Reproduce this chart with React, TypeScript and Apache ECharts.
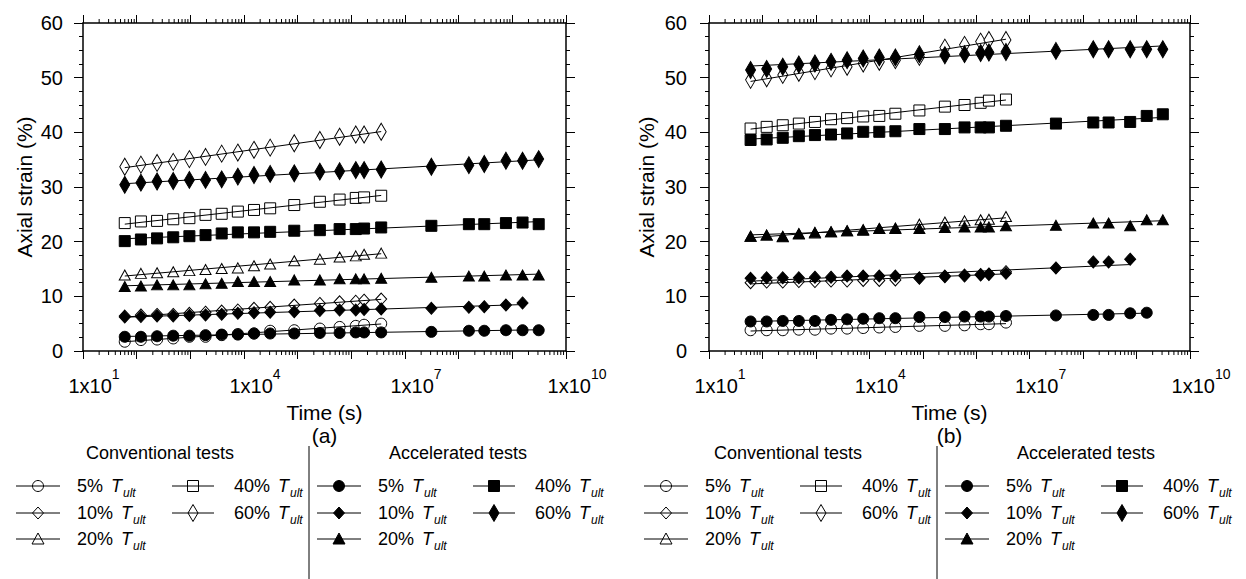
import React, { useEffect, useRef } from "react";
import * as echarts from "echarts";

const FONT = "'Liberation Sans', Arial, Helvetica, sans-serif";

// Elapsed times of the readings (s)
const times = [
  60, 120, 240, 480, 960, 1920, 3840, 7680, 15360, 30720, 86400, 259200, 604800,
  1209600, 1728000, 3600000, 3.1e7, 1.55e8, 3.0e8, 7.6e8, 1.55e9, 3.1e9,
];

const levels = ["5", "10", "20", "40", "60"];
const labelledExponents = [1, 4, 7, 10];
const yMin = 0;
const yMax = 60;
const yStep = 10;
const xMin = 10;
const xMax = 1e10;

// Panel (a) – conventional tests
const aConv5 = [1.7, 2.0, 2.1, 2.3, 2.6, 2.6, 2.9, 3.1, 3.2, 3.7, 3.8, 4.1, 4.4, 4.6, 4.8, 5.0];
const aConv10 = [6.4, 6.6, 6.7, 6.7, 6.9, 7.1, 7.3, 7.5, 7.8, 8.0, 8.4, 8.7, 9.0, 9.1, 9.3, 9.5];
const aConv20 = [13.9, 14.2, 14.3, 14.5, 14.7, 14.9, 15.1, 15.2, 15.6, 15.9, 16.5, 16.8, 17.2, 17.4, 17.7, 17.9];
const aConv40 = [23.4, 23.7, 23.8, 24.1, 24.3, 24.9, 25.1, 25.5, 25.8, 26.1, 26.7, 27.3, 27.7, 28.0, 28.1, 28.4];
const aConv60 = [33.7, 34.1, 34.4, 34.6, 35.1, 35.5, 36.1, 36.3, 36.8, 37.2, 38.0, 38.6, 39.2, 39.6, 39.6, 40.1];
// Panel (a) – accelerated tests
const aAcc5 = [2.6, 2.6, 2.7, 2.8, 2.8, 2.9, 3.0, 3.0, 3.2, 3.2, 3.2, 3.3, 3.3, 3.4, 3.4, 3.4, 3.5, 3.7, 3.7, 3.8, 3.8, 3.8];
const aAcc10 = [6.2, 6.3, 6.4, 6.4, 6.5, 6.6, 6.7, 6.9, 7.0, 7.1, 7.2, 7.4, 7.5, 7.5, 7.6, 7.7, 7.8, 8.0, 8.1, 8.4, 8.8];
const aAcc20 = [11.8, 11.9, 12.1, 12.1, 12.1, 12.3, 12.4, 12.7, 12.7, 12.7, 13.0, 13.0, 13.2, 13.2, 13.2, 13.3, 13.5, 13.7, 13.7, 13.9, 13.9, 13.9];
const aAcc40 = [20.1, 20.4, 20.6, 20.8, 21.0, 21.2, 21.5, 21.7, 21.7, 21.8, 22.0, 22.1, 22.3, 22.3, 22.4, 22.6, 22.9, 23.2, 23.2, 23.4, 23.5, 23.2];
const aAcc60 = [30.4, 30.8, 31.0, 31.1, 31.3, 31.3, 31.4, 31.9, 32.2, 32.4, 32.5, 32.8, 32.9, 33.1, 33.1, 33.2, 33.7, 34.0, 34.2, 34.8, 34.8, 35.1];

// Panel (b) – conventional tests
const bConv5 = [3.8, 3.8, 3.8, 3.9, 3.9, 4.1, 4.1, 4.2, 4.3, 4.4, 4.6, 4.6, 4.7, 4.9, 4.9, 5.2];
const bConv10 = [12.5, 12.6, 12.6, 12.7, 12.7, 12.8, 12.8, 12.9, 12.9, 13.0, 13.3, 13.7, 13.9, 14.0, 14.0, 14.5];
const bConv20 = [21.0, 21.2, 20.9, 21.4, 21.6, 21.8, 22.0, 22.2, 22.4, 22.5, 23.2, 23.6, 23.8, 24.0, 24.1, 24.6];
const bConv40 = [40.7, 41.0, 41.3, 41.6, 41.9, 42.4, 42.6, 42.9, 43.0, 43.4, 44.0, 44.7, 45.0, 45.4, 45.8, 46.0];
const bConv60 = [49.6, 49.9, 50.5, 50.9, 51.2, 51.7, 52.0, 52.6, 52.9, 53.2, 53.8, 55.5, 56.0, 56.6, 56.9, 56.9];
// Panel (b) – accelerated tests
const bAcc5 = [5.4, 5.4, 5.5, 5.5, 5.5, 5.7, 5.8, 5.9, 6.0, 6.0, 6.2, 6.2, 6.3, 6.3, 6.3, 6.4, 6.5, 6.6, 6.6, 6.9, 7.0];
const bAcc10 = [13.3, 13.4, 13.4, 13.4, 13.5, 13.5, 13.7, 13.7, 13.7, 13.7, 13.4, 13.6, 13.7, 13.9, 14.1, 14.2, 15.2, 16.3, 16.3, 16.8];
const bAcc20 = [21.0, 21.2, 21.0, 21.5, 21.7, 21.8, 22.0, 22.1, 22.4, 22.4, 22.4, 22.6, 22.7, 22.7, 22.7, 22.9, 23.0, 23.4, 23.4, 22.9, 24.0, 24.0];
const bAcc40 = [38.6, 38.7, 39.0, 39.3, 39.5, 39.6, 39.8, 40.1, 40.1, 40.2, 40.6, 40.6, 40.9, 40.9, 40.9, 41.2, 41.6, 41.8, 41.8, 41.9, 43.0, 43.3];
const bAcc60 = [51.4, 51.6, 52.0, 52.4, 52.6, 52.9, 53.2, 53.5, 53.7, 53.7, 54.3, 54.1, 54.3, 54.5, 54.6, 54.7, 54.9, 55.2, 55.2, 55.2, 55.2, 55.2];

const panels = [
  { tag: "(a)", conv: [aConv5, aConv10, aConv20, aConv40, aConv60], acc: [aAcc5, aAcc10, aAcc20, aAcc40, aAcc60] },
  { tag: "(b)", conv: [bConv5, bConv10, bConv20, bConv40, bConv60], acc: [bAcc5, bAcc10, bAcc20, bAcc40, bAcc60] },
];

const markerSpecs: Record<string, { symbol: string; size: number[] }> = {
  "5": { symbol: "circle", size: [11, 11] },
  "10": { symbol: "diamond", size: [11, 12] },
  "20": { symbol: "triangle", size: [11, 10] },
  "40": { symbol: "rect", size: [11, 11] },
  "60": { symbol: "diamond", size: [10, 17] },
};

const grids = [
  { left: 83, top: 23, width: 483, height: 328 },
  { left: 709, top: 23, width: 481, height: 328 },
];

function fitLine(vals: number[]) {
  const n = vals.length;
  const xs = times.slice(0, n).map((t) => Math.log10(t));
  const mx = xs.reduce((s, v) => s + v, 0) / n;
  const my = vals.reduce((s, v) => s + v, 0) / n;
  let sxy = 0;
  let sxx = 0;
  for (let i = 0; i < n; i++) {
    sxy += (xs[i] - mx) * (vals[i] - my);
    sxx += (xs[i] - mx) * (xs[i] - mx);
  }
  const b = sxy / sxx;
  const a = my - b * mx;
  return [
    [times[0], a + b * xs[0]],
    [times[n - 1], a + b * xs[n - 1]],
  ];
}

// legend symbol drawn with graphic primitives
function legendMarker(level: string, cx: number, cy: number, filled: boolean) {
  const style = { fill: filled ? "#000" : "#fff", stroke: "#000", lineWidth: 1 };
  const [w, h] = markerSpecs[level].size;
  if (level === "5") return { type: "circle", shape: { cx, cy, r: w / 2 }, style, z: 10 };
  if (level === "40") return { type: "rect", shape: { x: cx - w / 2, y: cy - h / 2, width: w, height: h }, style, z: 10 };
  if (level === "20")
    return {
      type: "polygon",
      shape: { points: [[cx, cy - h / 2 - 1], [cx + w / 2 + 0.5, cy + h / 2], [cx - w / 2 - 0.5, cy + h / 2]] },
      style,
      z: 10,
    };
  return {
    type: "polygon",
    shape: { points: [[cx, cy - h / 2], [cx + w / 2, cy], [cx, cy + h / 2], [cx - w / 2, cy]] },
    style,
    z: 10,
  };
}

const legendText = (x: number, y: number, level: string) => ({
  type: "text",
  z: 10,
  style: {
    x,
    y,
    text: `{n|${level}% }{t|T}{s|ult}`,
    verticalAlign: "middle",
    align: "left",
    rich: {
      n: { fontSize: 18, fontFamily: FONT, fill: "#000", lineHeight: 26, verticalAlign: "middle", padding: [0, 3, 0, 0] },
      t: { fontSize: 18, fontFamily: FONT, fontStyle: "italic", fill: "#000", lineHeight: 26, verticalAlign: "middle" },
      s: { fontSize: 12, fontFamily: FONT, fontStyle: "italic", fill: "#000", lineHeight: 11, verticalAlign: "bottom", padding: [0, 0, 0, 1] },
    },
  },
});

function buildLegend(dx: number) {
  const els: any[] = [];
  const rowsY = [486, 513, 539];
  const cols = [
    { l1: 16, l2: 60, m: 38, t: 77 },
    { l1: 172, l2: 214, m: 193, t: 234 },
  ];
  const groups = [
    { title: "Conventional tests", cx: 160, filled: false, shift: 0 },
    { title: "Accelerated tests", cx: 458, filled: true, shift: 301 },
  ];
  const layout: [string, number, number][] = [
    ["5", 0, 0],
    ["40", 0, 1],
    ["10", 1, 0],
    ["60", 1, 1],
    ["20", 2, 0],
  ];
  groups.forEach((g) => {
    els.push({
      type: "text",
      style: { x: g.cx + dx, y: 453, text: g.title, align: "center", verticalAlign: "middle", fontSize: 18, fontFamily: FONT, fill: "#000" },
    });
    layout.forEach(([lv, r, c]) => {
      const col = cols[c];
      const y = rowsY[r];
      els.push({ type: "line", z: 11, shape: { x1: col.l1 + g.shift + dx, y1: y, x2: col.l2 + g.shift + dx, y2: y }, style: { stroke: "#000", lineWidth: 1 } });
      els.push(legendMarker(lv, col.m + g.shift + dx, y, g.filled));
      els.push(legendText(col.t + g.shift + dx, y, lv));
    });
  });
  els.push({ type: "line", shape: { x1: 309 + dx, y1: 446, x2: 309 + dx, y2: 579 }, style: { stroke: "#000", lineWidth: 1 } });
  return els;
}

// Minor log ticks (2..9 x 10^n) drawn via the axis scale
const minorTicks: number[][] = [];
for (let e = 1; e < 10; e++) for (let k = 2; k <= 9; k++) minorTicks.push([k * Math.pow(10, e), 0]);

export default function App() {
  const ref = useRef<HTMLDivElement>(null);
  useEffect(() => {
    document.body.style.margin = "0";
    if (!ref.current) return;
    const chart = echarts.init(ref.current, null, { renderer: "svg" });

    const xAxes: any[] = [];
    const yAxes: any[] = [];
    const series: any[] = [];
    const axisLineStyle = { color: "#000", width: 1.5 };

    grids.forEach((_, gi) => {
      const base = {
        type: "log",
        logBase: 10,
        min: xMin,
        max: xMax,
        splitNumber: 9,
        gridIndex: gi,
        splitLine: { show: false },
        axisLine: { show: true, onZero: false, lineStyle: axisLineStyle },
        axisTick: { show: true, inside: false, length: 8, lineStyle: { color: "#000", width: 1 } },
      };
      xAxes.push({
        ...base,
        position: "bottom",
        name: `Time (s)\n${panels[gi].tag}`,
        nameLocation: "middle",
        nameGap: 47,
        nameTextStyle: { fontSize: 21, fontFamily: FONT, color: "#000", lineHeight: 23, verticalAlign: "top" },
        axisLabel: {
          show: true,
          interval: 0,
          showMinLabel: true,
          showMaxLabel: true,
          hideOverlap: false,
          margin: 16,
          padding: [0, 0, 0, 22],
          formatter: (v: number) => {
            const e = Math.round(Math.log10(v));
            return labelledExponents.includes(e) ? `{b|1x10}{s|${e}}` : "";
          },
          rich: {
            b: { fontSize: 20, fontFamily: FONT, color: "#000", lineHeight: 29, verticalAlign: "bottom" },
            s: { fontSize: 14, fontFamily: FONT, color: "#000", lineHeight: 15, verticalAlign: "top" },
          },
        },
      });
      xAxes.push({ ...base, position: "top", axisLabel: { show: false } });

      const ybase = {
        type: "value",
        min: yMin,
        max: yMax,
        interval: yStep,
        gridIndex: gi,
        splitLine: { show: false },
        axisLine: { show: true, onZero: false, lineStyle: axisLineStyle },
        axisTick: { show: true, inside: false, length: 9, lineStyle: { color: "#000", width: 1 } },
        minorTick: { show: true, splitNumber: 4, length: 4, lineStyle: { color: "#000", width: 1 } },
        minorSplitLine: { show: false },
      };
      yAxes.push({
        ...ybase,
        position: "left",
        name: "Axial strain (%)",
        nameLocation: "middle",
        nameGap: gi === 0 ? 48 : 52,
        nameTextStyle: { fontSize: 21, fontFamily: FONT, color: "#000" },
        axisLabel: { show: true, fontSize: 20, fontFamily: FONT, color: "#000", margin: gi === 0 ? 20 : 22 },
      });
      yAxes.push({ ...ybase, position: "right", axisLabel: { show: false } });

      const xi = gi * 2;
      const yi = gi * 2;
      series.push({
        type: "custom",
        xAxisIndex: xi,
        yAxisIndex: yi,
        silent: true,
        clip: false,
        data: minorTicks,
        encode: { x: 0, y: 1 },
        renderItem: (_p: any, api: any) => {
          const t = api.value(0);
          const b = api.coord([t, yMin]);
          const tp = api.coord([t, yMax]);
          return {
            type: "group",
            children: [
              { type: "line", shape: { x1: b[0], y1: b[1], x2: b[0], y2: b[1] + 4 }, style: { stroke: "#000", lineWidth: 1 } },
              { type: "line", shape: { x1: tp[0], y1: tp[1], x2: tp[0], y2: tp[1] - 4 }, style: { stroke: "#000", lineWidth: 1 } },
            ],
          };
        },
      });

      const groups = [
        { vals: panels[gi].conv, filled: false, z: 3 },
        { vals: panels[gi].acc, filled: true, z: 4 },
      ];
      groups.forEach((g) => {
        g.vals.forEach((vals, li) => {
          const lv = levels[li];
          const spec = markerSpecs[lv];
          series.push({
            type: "scatter",
            name: `${g.filled ? "Accelerated" : "Conventional"} ${lv}%`,
            xAxisIndex: xi,
            yAxisIndex: yi,
            symbol: spec.symbol,
            symbolSize: spec.size,
            z: g.z,
            itemStyle: { color: g.filled ? "#000" : "#fff", borderColor: "#000", borderWidth: 1, opacity: 1 },
            data: vals.map((v, i) => [times[i], v]),
          });
          series.push({
            type: "line",
            xAxisIndex: xi,
            yAxisIndex: yi,
            z: 5,
            showSymbol: false,
            symbol: "none",
            lineStyle: { color: "#000", width: 1 },
            data: fitLine(vals),
          });
        });
      });
    });

    chart.setOption({
      animation: false,
      backgroundColor: "#fff",
      textStyle: { fontFamily: FONT },
      grid: grids,
      xAxis: xAxes,
      yAxis: yAxes,
      series,
      graphic: { elements: [...buildLegend(0), ...buildLegend(628)] },
    });
    return () => chart.dispose();
  }, []);
  return <div ref={ref} style={{ width: 1246, height: 579 }} />;
}
